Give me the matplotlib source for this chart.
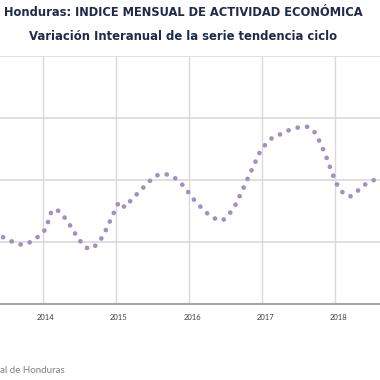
import matplotlib.pyplot as plt

# meses desde jun-2013 hasta ago-2018 (indice 0 = ene-2013)
mes_inicio = 5
variacion = [3.08, 3.03, 2.99, 2.96, 2.98, 3.03, 3.11,            # jun-dic 2013
             3.21, 3.52, 3.51, 3.41, 3.27, 3.11, 2.97, 2.89, 2.93, 3.04, 3.22, 3.44,   # 2014
             3.65, 3.56, 3.68, 3.78, 3.88, 3.98, 4.07, 4.10, 4.09, 4.05, 3.97, 3.86,   # 2015
             3.72, 3.61, 3.51, 3.42, 3.37, 3.35, 3.44, 3.58, 3.78, 4.00, 4.21, 4.43,   # 2016
             4.57, 4.67, 4.72, 4.76, 4.81, 4.84, 4.86, 4.86, 4.79, 4.61, 4.38, 4.11,   # 2017
             3.88, 3.77, 3.74, 3.81, 3.91, 3.96, 4.01, 4.03]                           # 2018
anios = ['2014', '2015', '2016', '2017', '2018']

meses = list(range(mes_inicio, mes_inicio + len(variacion)))

fig = plt.figure(figsize=(3.8, 3.8), dpi=100)
ax = fig.add_axes([0, 0.1992, 1, 0.6534])

ax.plot(meses, variacion, color='#a28fc5', linewidth=3.4,
        linestyle=(0, (0.01, 2.0)), dash_capstyle='round')

ax.set_xlim(4.495, 66.83)
ax.set_ylim(2, 6)

# lineas verticales al inicio de cada anio
for i in range(len(anios)):
    ax.axvline(11.5 + 12 * i, color='#d9d9d9', linewidth=1, zorder=0)
for v in [3, 4, 5, 6]:
    ax.axhline(v, color='#d9d9d9', linewidth=1.2, zorder=0)

ax.set_xticks([12 + 12 * i for i in range(len(anios))])
ax.set_xticklabels(anios, fontsize=5.5, family='Lato', color='#404040')
ax.tick_params(axis='x', length=0, pad=7)
ax.set_yticks([])
for s in ['top', 'left', 'right']:
    ax.spines[s].set_visible(False)
ax.spines['bottom'].set_color('#a6a6a6')
ax.spines['bottom'].set_linewidth(1.5)

fig.text(0.483, 0.968, 'Honduras: INDICE MENSUAL DE ACTIVIDAD ECONÓMICA',
         ha='center', va='center', fontsize=8.3, fontweight='bold', color='#1f2a4d')
fig.text(0.482, 0.905, 'Variación Interanual de la serie tendencia ciclo',
         ha='center', va='center', fontsize=8.4, fontweight='bold', color='#1f2a4d')
fig.text(0.0, 0.024, 'al de Honduras', ha='left', va='center',
         fontsize=7, family='Lato', color='#808080')

fig.savefig('out.png', dpi=100)
